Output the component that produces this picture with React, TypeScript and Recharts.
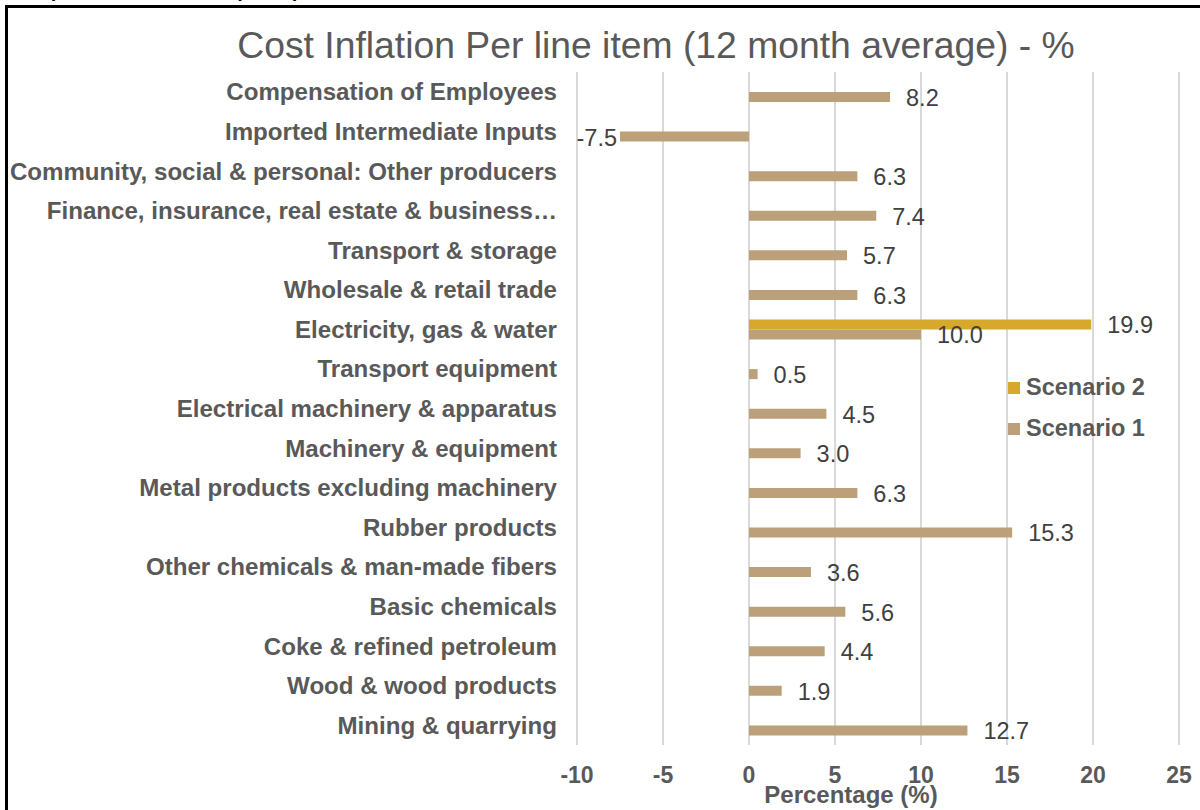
import React from "react";
import { BarChart, Bar, XAxis, YAxis, CartesianGrid, LabelList, Label } from "recharts";

const categories = [
  "Compensation of Employees",
  "Imported Intermediate Inputs",
  "Community, social & personal: Other producers",
  "Finance, insurance, real estate & business…",
  "Transport & storage",
  "Wholesale & retail trade",
  "Electricity, gas & water",
  "Transport equipment",
  "Electrical machinery & apparatus",
  "Machinery & equipment",
  "Metal products excluding machinery",
  "Rubber products",
  "Other chemicals & man-made fibers",
  "Basic chemicals",
  "Coke & refined petroleum",
  "Wood & wood products",
  "Mining & quarrying",
];

const scenario1 = [8.2, -7.5, 6.3, 7.4, 5.7, 6.3, 10.0, 0.5, 4.5, 3.0, 6.3, 15.3, 3.6, 5.6, 4.4, 1.9, 12.7];
const scenario2: (number | null)[] = [null, null, null, null, null, null, 19.9, null, null, null, null, null, null, null, null, null, null];

const xTicks = [-10, -5, 0, 5, 10, 15, 20, 25];

const seriesNames = ["Scenario 2", "Scenario 1"];
const colors = { s1: "#BBA07A", s2: "#D6A92C" };

const data = categories.map((name, i) => ({ name, s1: scenario1[i], s2: scenario2[i] }));

const FONT = "'Liberation Sans', Arial, Helvetica, sans-serif";

const CatTick = (props: any) => {
  const { x, y, payload } = props;
  return (
    <text x={x} y={y} dy="0.355em" textAnchor="end" fill="#595959" fontSize={24.1} fontWeight="bold" fontFamily={FONT}>
      {payload.value}
    </text>
  );
};

const ValTick = (props: any) => {
  const { x, y, payload } = props;
  return (
    <text x={x} y={y} dy="0.71em" textAnchor="middle" fill="#595959" fontSize={23} fontWeight="bold" fontFamily={FONT}>
      {payload.value}
    </text>
  );
};

const DataLabel = (props: any) => {
  const { x, y, width, height, value } = props;
  if (value === null || value === undefined) return null;
  const cy = y + height / 2;
  const a = x;
  const b = x + width;
  if (value >= 0) {
    const end = Math.max(a, b);
    return (
      <text x={end + 16} y={cy} dy="0.38em" textAnchor="start" fill="#404040" fontSize={23.5} fontFamily={FONT}>
        {value.toFixed(1)}
      </text>
    );
  }
  const end = Math.min(a, b);
  return (
    <text x={end - 3} y={cy} dy="0.38em" textAnchor="end" fill="#404040" fontSize={23.5} fontFamily={FONT}>
      {value.toFixed(1)}
    </text>
  );
};

const AxisTitle = (props: any) => {
  const { viewBox } = props;
  const cx = viewBox.x + viewBox.width / 2 - 27;
  return (
    <text x={cx} y={viewBox.y + viewBox.height - 7} textAnchor="middle" fill="#595959" fontSize={24} fontWeight="bold" fontFamily={FONT}>
      Percentage (%)
    </text>
  );
};

export default function App() {
  return (
    <div style={{ position: "absolute", left: 0, top: 0, width: 1200, height: 810, overflow: "hidden", background: "#fff", fontFamily: FONT }}>
      <div style={{ position: "absolute", left: 18, top: -21, fontSize: 20, fontWeight: "bold", fontStyle: "italic", color: "#000", whiteSpace: "nowrap" }}>
        Graph 4: Cost inflation per input sector
      </div>
      <div style={{ position: "absolute", left: 5, top: 5, width: 1400, height: 1000, borderLeft: "3px solid #000", borderTop: "3px solid #000" }} />
      <div style={{ position: "absolute", left: 0, top: 22, width: 1312, textAlign: "center", fontSize: 37.3, color: "#595959", lineHeight: "46px", whiteSpace: "nowrap" }}>
        Cost Inflation Per line item (12 month average) - %
      </div>
      <div style={{ position: "absolute", left: 0, top: 0 }}>
        <BarChart
          width={1200}
          height={810}
          data={data}
          layout="vertical"
          margin={{ top: 72, right: 21, bottom: 0, left: 0 }}
          barSize={10}
          barGap={0}
        >
          <CartesianGrid horizontal={false} vertical={true} stroke="#D9D9D9" strokeWidth={2} />
          <XAxis
            type="number"
            domain={[-10, 25]}
            ticks={xTicks}
            axisLine={false}
            tickLine={false}
            tickSize={0}
            tickMargin={22}
            height={65}
            tick={<ValTick />}
            interval={0}
          >
            <Label content={<AxisTitle />} />
          </XAxis>
          <YAxis
            type="category"
            dataKey="name"
            width={577}
            axisLine={false}
            tickLine={false}
            tickSize={0}
            tickMargin={20}
            tick={<CatTick />}
            interval={0}
          />
          <Bar dataKey="s2" name={seriesNames[0]} fill={colors.s2} isAnimationActive={false}>
            <LabelList dataKey="s2" content={<DataLabel />} />
          </Bar>
          <Bar dataKey="s1" name={seriesNames[1]} fill={colors.s1} isAnimationActive={false}>
            <LabelList dataKey="s1" content={<DataLabel />} />
          </Bar>
        </BarChart>
      </div>
      <div style={{ position: "absolute", left: 1008, top: 367, fontSize: 23.5, fontWeight: "bold", color: "#595959", lineHeight: "41px" }}>
        {seriesNames.map((n, i) => (
          <div key={n} style={{ display: "flex", alignItems: "center", whiteSpace: "nowrap" }}>
            <span style={{ display: "inline-block", width: 12, height: 12, background: i === 0 ? colors.s2 : colors.s1, marginRight: 6 }} />
            {n}
          </div>
        ))}
      </div>
    </div>
  );
}
